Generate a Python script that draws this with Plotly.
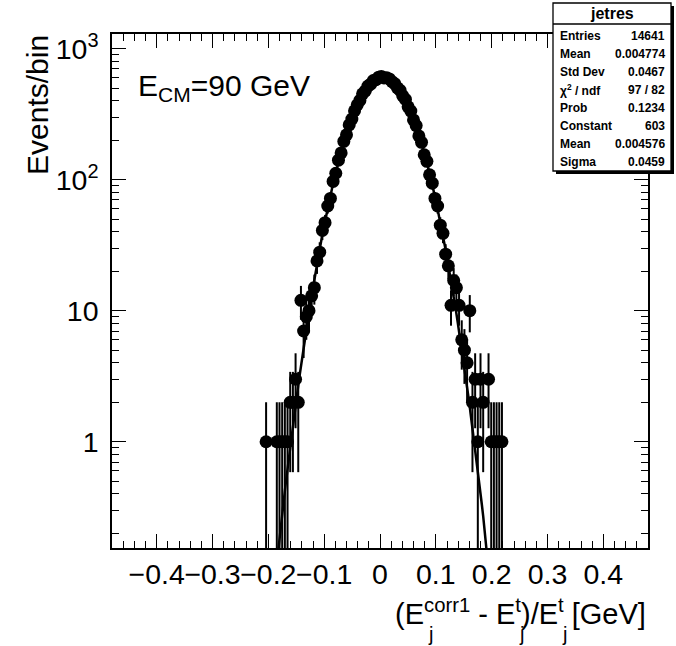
import numpy as np
import plotly.graph_objects as go

# ---------------- data ----------------
# histogram "jetres": 200 bins on [-0.48, 0.48]
n_bins = 200
x_min, x_max = -0.48, 0.48
first_bin = 57  # index of the first bin listed in counts
counts = [
    1, 0, 0, 0, 1, 1, 1, 1, 1, 2,          # bins 57-66
    2, 3, 2, 12, 7, 9, 10, 13, 15, 24,     # bins 67-76
    28, 41, 47, 63, 72, 97, 112, 141, 160, 196,   # 77-86
    220, 262, 290, 336, 372, 403, 452, 476, 518, 536,  # 87-96
    571, 580, 606, 614, 598, 600, 588, 560, 541, 503,  # 97-106
    481, 436, 410, 360, 334, 286, 259, 216, 193, 155,  # 107-116
    138, 109, 94, 72, 63, 45, 39, 27, 22, 11,          # 117-126
    17, 15, 11, 6, 5, 4, 10, 2, 3, 1,                  # 127-136
    3, 2, 0, 3, 1, 1, 1, 1, 1,                         # 137-145
]

# Gaussian fit parameters (from the stats box)
fit_constant = 603
fit_mean = 0.004576
fit_sigma = 0.0459

stats_title = "jetres"
stats_labels = ["Entries", "Mean", "Std Dev", "χ<sup>2</sup> / ndf", "Prob",
                "Constant", "Mean", "Sigma"]
stats_values = ["14641", "0.004774", "0.0467", "97 / 82", "0.1234",
                "603", "0.004576", "0.0459"]

x_tick_vals = [-0.4, -0.3, -0.2, -0.1, 0, 0.1, 0.2, 0.3, 0.4]
y_tick_vals = [1, 10, 100, 1000]
y_tick_text = ["1", "10", "10<sup>2</sup>", "10<sup>3</sup>"]
y_minor_vals = [m * 10.0 ** d for d in range(-1, 3) for m in range(2, 10)]

# ---------------- derived ----------------
bin_width = (x_max - x_min) / n_bins
centers = [x_min + bin_width * (first_bin + i + 0.5) for i in range(len(counts))]
xs = [c for c, n in zip(centers, counts) if n > 0]
ys = [n for n in counts if n > 0]
errs = [float(np.sqrt(n)) for n in ys]

fit_x = np.linspace(x_min, x_max, 401)
fit_y = fit_constant * np.exp(-0.5 * ((fit_x - fit_mean) / fit_sigma) ** 2)

W, H = 676, 646
L, R, T, B = 112, 28, 34, 98
PW, PH = W - L - R, H - T - B


def px(x):
    return (x - L) / PW


def py(y):
    return (H - B - y) / PH


FONT = "Liberation Sans, Arial, Helvetica, sans-serif"

fig = go.Figure()
fig.add_trace(go.Scatter(
    x=fit_x, y=fit_y, mode="lines",
    line=dict(color="black", width=2.5),
    hoverinfo="skip", showlegend=False))
fig.add_trace(go.Scatter(
    x=xs, y=ys, mode="markers",
    marker=dict(color="black", size=13, symbol="circle"),
    error_y=dict(type="data", array=errs, symmetric=True,
                 color="black", thickness=2, width=0),
    showlegend=False))

axis_common = dict(
    showline=True, linecolor="black", linewidth=1.5, mirror="allticks",
    ticks="inside", tickcolor="black", tickwidth=1.3, ticklen=14,
    showgrid=False, zeroline=False, tickangle=0,
    tickfont=dict(family=FONT, size=28.5, color="black"),
)

fig.update_xaxes(
    range=[x_min, x_max], tickmode="array", tickvals=x_tick_vals,
    minor=dict(ticks="inside", ticklen=7, tickwidth=1.3, tickcolor="black",
               dtick=0.02, tick0=0, showgrid=False),
    **axis_common)
fig.update_yaxes(
    type="log", range=[-0.811, 3.112], tickmode="array",
    tickvals=y_tick_vals, ticktext=y_tick_text, ticklabelstandoff=6,
    minor=dict(ticks="inside", ticklen=7, tickwidth=1.3, tickcolor="black",
               tickmode="array", tickvals=y_minor_vals, showgrid=False),
    **axis_common)

annotations = []
# y title
annotations.append(dict(
    x=px(37), y=py(33), xref="paper", yref="paper", text="Events/bin",
    textangle=-90, xanchor="center", yanchor="top", showarrow=False,
    font=dict(family=FONT, size=30, color="black")))
# energy label
annotations.append(dict(
    x=px(136), y=py(88), xref="paper", yref="paper",
    text="E<sub>CM</sub>=90 GeV", xanchor="left", yanchor="middle",
    showarrow=False, font=dict(family=FONT, size=30, color="black")))
# x title (superscripts in the main text, subscripts "j" stacked below them)
annotations.append(dict(
    x=px(648), y=py(632), xref="paper", yref="paper",
    text="(E<sup>corr1</sup> - E<sup>t</sup>)/E<sup>t</sup> [GeV]",
    xanchor="right", yanchor="bottom", showarrow=False,
    font=dict(family=FONT, size=29, color="black")))
for jx in (426, 517, 560):
    annotations.append(dict(
        x=px(jx), y=py(634), xref="paper", yref="paper", text="j",
        xanchor="left", yanchor="middle", showarrow=False,
        font=dict(family=FONT, size=20, color="black")))

# stats box
bx0, bx1, by0, by1 = 553, 671, 3, 171
shapes = [
    dict(type="rect", xref="paper", yref="paper", layer="above",
         x0=px(bx0 + 3), x1=px(bx1 + 3), y0=py(by1 + 3), y1=py(by0 + 3),
         fillcolor="black", line=dict(width=0)),
    dict(type="rect", xref="paper", yref="paper", layer="above",
         x0=px(bx0), x1=px(bx1), y0=py(by1), y1=py(by0),
         fillcolor="white", line=dict(color="black", width=1.3)),
    dict(type="line", xref="paper", yref="paper", layer="above",
         x0=px(bx0), x1=px(bx1), y0=py(24), y1=py(24),
         line=dict(color="black", width=1.3)),
]
annotations.append(dict(
    x=px((bx0 + bx1) / 2), y=py(13.5), xref="paper", yref="paper",
    text="<b>%s</b>" % stats_title, xanchor="center", yanchor="middle",
    showarrow=False, font=dict(family=FONT, size=16, color="black")))
for i, (lab, val) in enumerate(zip(stats_labels, stats_values)):
    yy = 36 + 18.05 * i
    annotations.append(dict(
        x=px(bx0 + 5), y=py(yy), xref="paper", yref="paper",
        text="<b>%s</b>" % lab, xanchor="left", yanchor="middle",
        showarrow=False, font=dict(family=FONT, size=12, color="black")))
    annotations.append(dict(
        x=px(bx1 - 4), y=py(yy), xref="paper", yref="paper",
        text="<b>%s</b>" % val, xanchor="right", yanchor="middle",
        showarrow=False, font=dict(family=FONT, size=12, color="black")))

fig.update_layout(
    width=W, height=H,
    margin=dict(l=L, r=R, t=T, b=B, pad=0),
    paper_bgcolor="white", plot_bgcolor="white",
    showlegend=False,
    annotations=annotations, shapes=shapes,
    font=dict(family=FONT, color="black"),
)

fig.write_html(
    "out.html",
    config={"displayModeBar": False},
    post_script="document.body.style.margin='0';"
                "document.body.style.padding='0';"
                "document.body.style.overflow='hidden';",
)
